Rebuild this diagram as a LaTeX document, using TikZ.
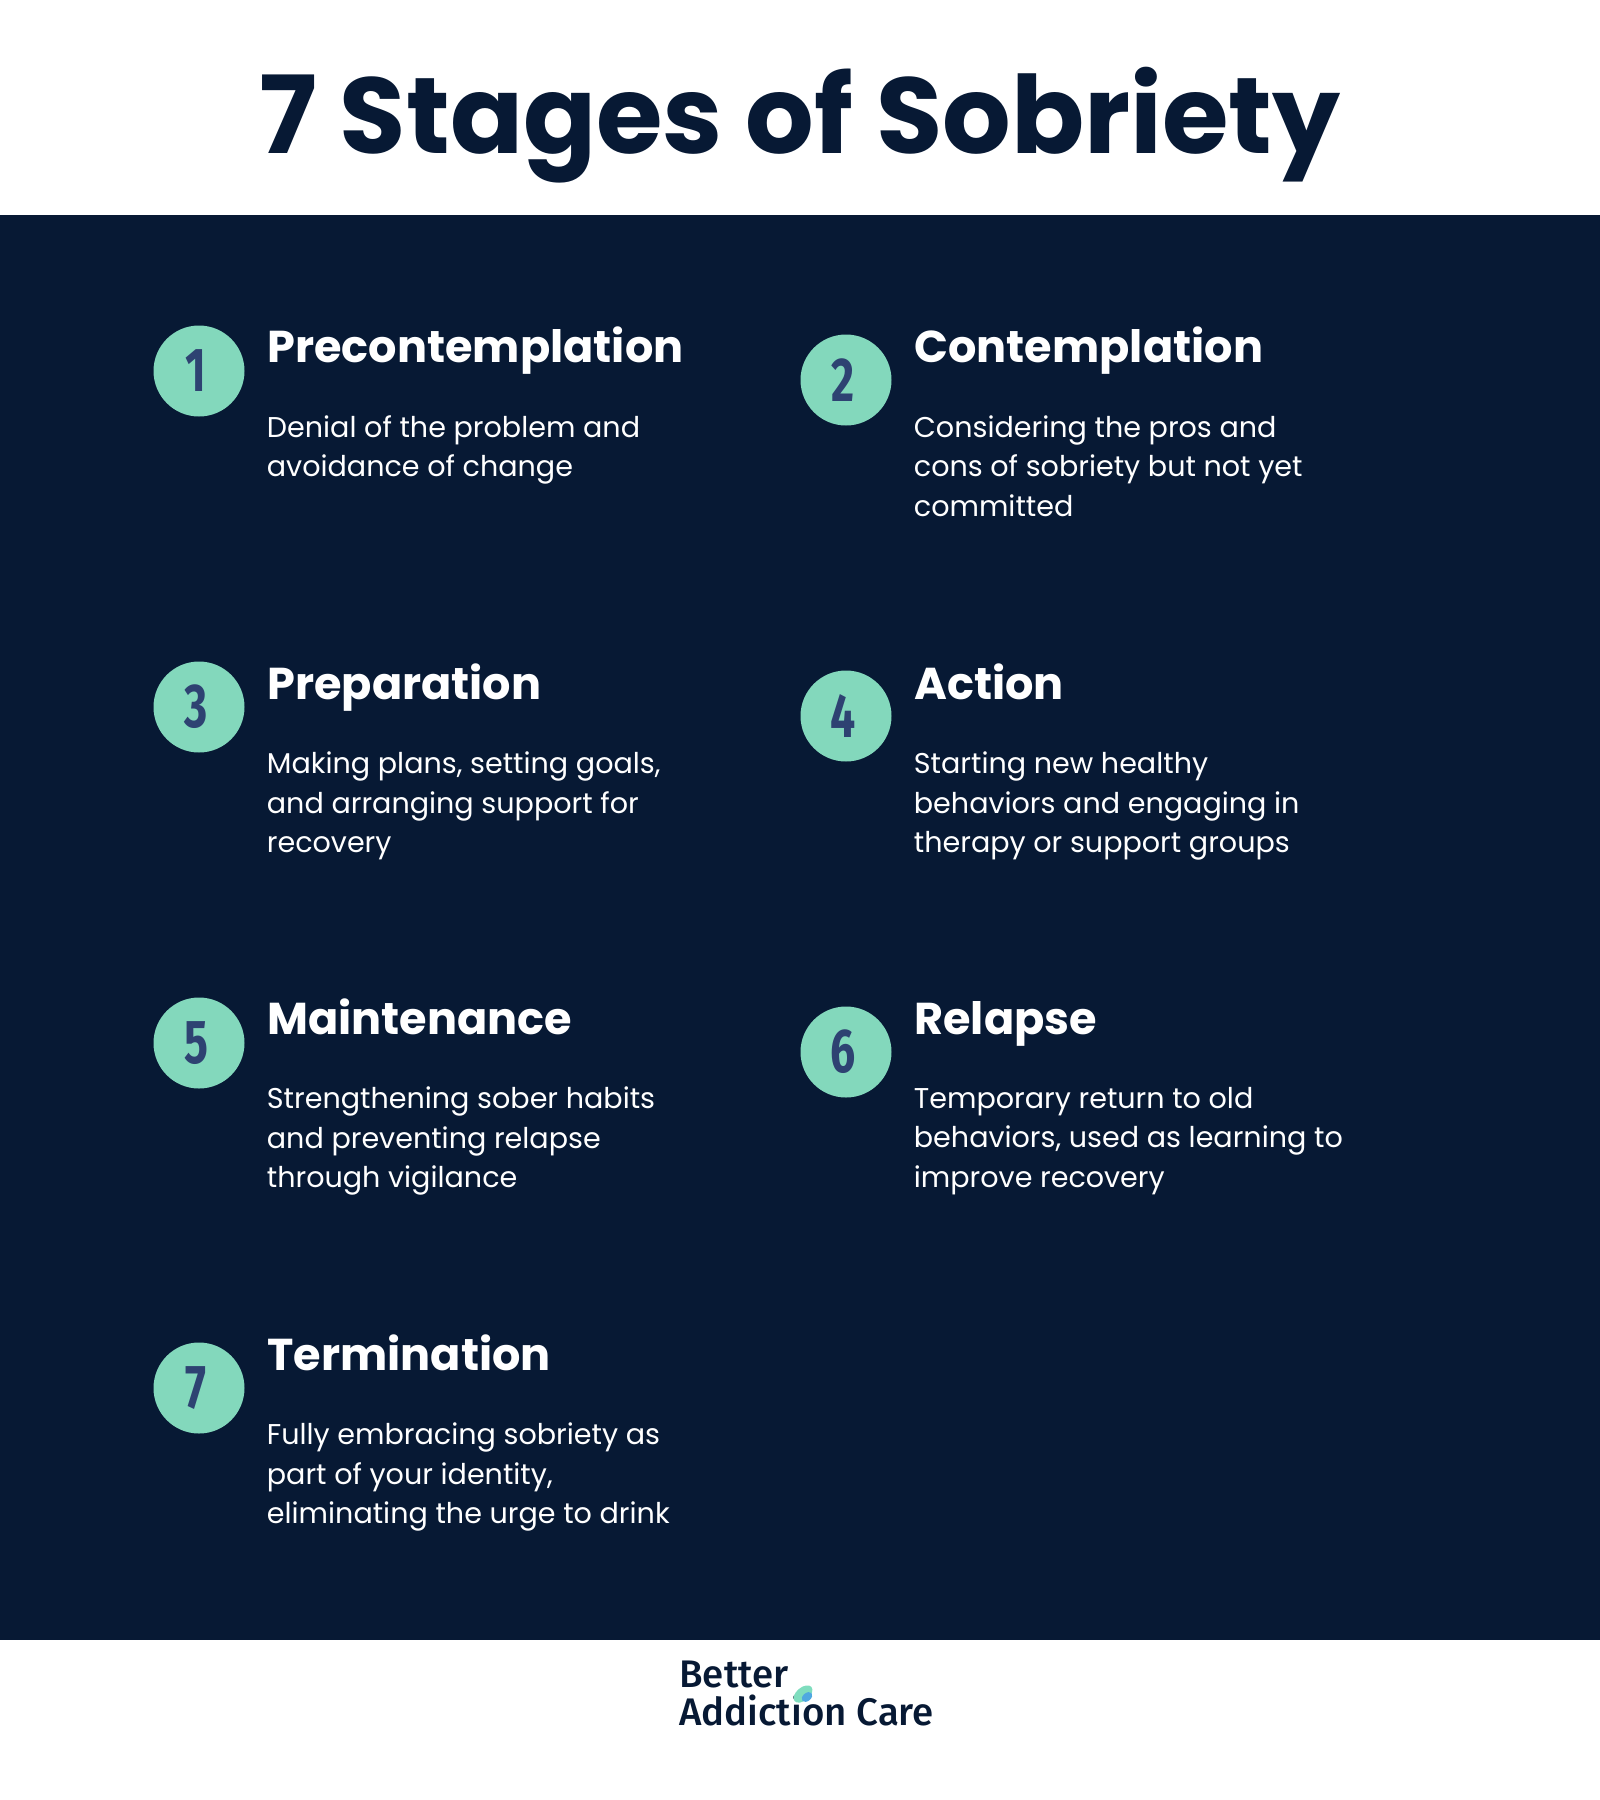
\documentclass[tikz,border=0pt]{standalone}
\usepackage{fontspec}
\setmainfont{Poppins}
\newfontfamily\numfont{Fira Sans}
\newfontfamily\logofont{Fira Sans Medium}
\definecolor{navy}{HTML}{071934}
\definecolor{mint}{HTML}{83D8BC}
\definecolor{numblue}{HTML}{2E4272}
\definecolor{leafgreen}{HTML}{7FDDBE}
\definecolor{leafblue}{HTML}{4FA8E0}
\tikzset{
  band/.style={fill=navy,draw=none},
  badge/.style={circle,fill=mint,draw=none,minimum size=45.5pt,inner sep=0pt,
    font=\numfont\fontsize{31}{31}\selectfont\bfseries,text=numblue},
  heading/.style={anchor=base west,inner sep=0pt,text=white,
    font=\fontsize{22.3}{26}\selectfont\bfseries},
  body/.style={anchor=base west,inner sep=0pt,text=white,align=left,
    font=\fontsize{14.3}{19.8}\selectfont},
  titletext/.style={anchor=base,inner sep=0pt,text=navy,
    font=\fontsize{53.9}{60}\selectfont\bfseries},
  logotext/.style={anchor=base west,inner sep=0pt,text=navy,
    font=\logofont\fontsize{19.2}{20}\selectfont},
}
% #1 id, #2 text x, #3 circle x, #4 circle y, #5 number, #6 heading baseline, #7 heading, #8 body
\newcommand{\stagecard}[8]{%
  \node[badge] (badge#1) at (#3,#4) {\hspace*{-3pt}\scalebox{0.72}[1]{#5}};
  \node[heading] (head#1) at (#2,#6) {#7};
  \node[body,anchor=north west] (text#1) at (#2-0.5,#6+52.5) {#8};
}
\begin{document}
\begin{tikzpicture}[x=0.5pt,y=-0.5pt]
\useasboundingbox (0,0) rectangle (1600,1800);
\fill[white] (0,0) rectangle (1600,1800);
\fill[band] (0,215) rectangle (1600,1640);
\node[titletext] (title) at (800,153.5) {7 Stages of Sobriety};
\stagecard{1}{267}{199}{371}{1}{362.5}{Precontemplation}{Denial of the problem and\\avoidance of change}
\stagecard{2}{914}{846}{380}{2}{362.5}{Contemplation}{Considering the pros and\\cons of sobriety but not yet\\committed}
\stagecard{3}{267}{199}{707}{3}{699}{Preparation}{Making plans, setting goals,\\and arranging support for\\recovery}
\stagecard{4}{914}{846}{716}{4}{699}{Action}{Starting new healthy\\behaviors and engaging in\\therapy or support groups}
\stagecard{5}{267}{199}{1043}{5}{1034}{Maintenance}{Strengthening sober habits\\and preventing relapse\\through vigilance}
\stagecard{6}{914}{846}{1052}{6}{1034}{Relapse}{Temporary return to old\\behaviors, used as learning to\\improve recovery}
\stagecard{7}{267}{199}{1388}{7}{1370}{Termination}{Fully embracing sobriety as\\part of your identity,\\eliminating the urge to drink}
\node[logotext] (logo1) at (679,1687) {Better};
\node[logotext] (logo2) at (679,1725.5) {Addiction Care};
\fill[leafgreen,rotate around={40:(803,1694)}] (803,1694) ellipse (11 and 6.5);
\fill[leafblue,rotate around={40:(807,1697)}] (807,1697) ellipse (6 and 4);
\end{tikzpicture}
\end{document}
